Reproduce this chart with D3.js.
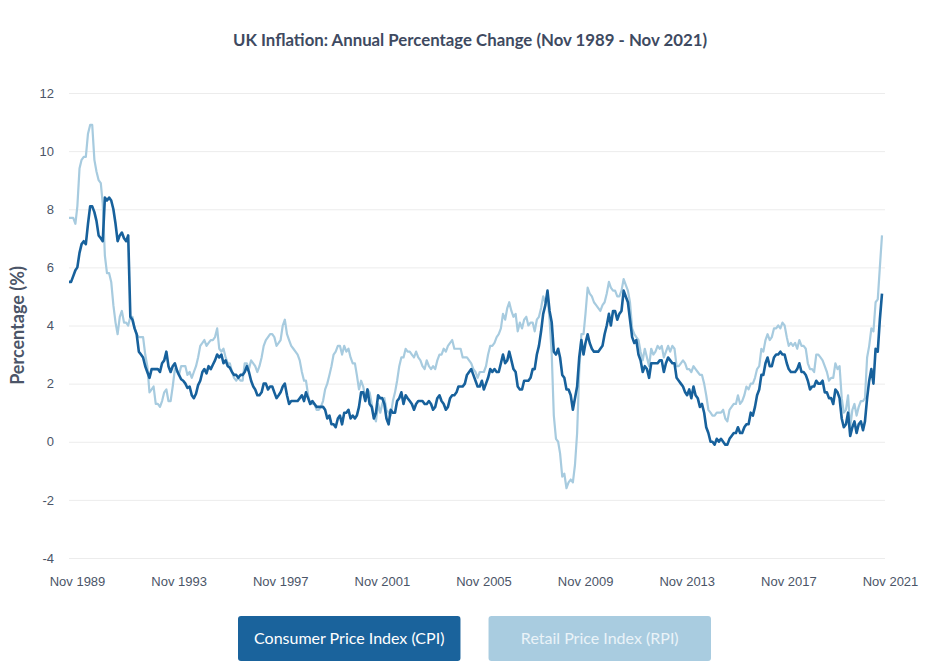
<!DOCTYPE html>
<html>
<head>
<meta charset="utf-8">
<script src="https://cdn.jsdelivr.net/npm/d3@7"></script>
<style>
  body { margin: 0; background: #fff; }
  svg { font-family: Lato, "Open Sans", sans-serif; }
</style>
</head>
<body>
<div id="chart"></div>
<script>
// first month of the series, then one value per month up to Nov 2021
const startMonth = "1989-11";

// Consumer Price Index, annual % change
const cpi = [
  5.5, 5.5,                                                        // 1989 Nov-Dec
  5.7, 5.9, 6.0, 6.5, 6.8, 6.9, 6.8, 7.5, 8.1, 8.1, 7.9, 7.6,      // 1990
  7.1, 7.0, 6.9, 8.4, 8.3, 8.4, 8.3, 8.0, 7.5, 6.9, 7.1, 7.2,      // 1991
  7.0, 6.9, 7.1, 4.3, 4.2, 3.9, 3.7, 3.1, 3.0, 2.9, 2.6, 2.4,      // 1992
  2.2, 2.5, 2.5, 2.5, 2.5, 2.4, 2.7, 2.8, 3.1, 2.6, 2.4, 2.6,      // 1993
  2.7, 2.45, 2.3, 2.15, 2.1, 2.0, 1.85, 1.9, 1.6, 1.5, 1.65, 1.95, // 1994
  2.1, 2.4, 2.5, 2.35, 2.6, 2.5, 2.65, 2.8, 3.0, 2.9, 3.0, 2.7,    // 1995
  2.8, 2.6, 2.55, 2.4, 2.3, 2.3, 2.2, 2.3, 2.3, 2.4, 2.6, 2.4,     // 1996
  2.1, 1.9, 1.8, 1.6, 1.6, 1.7, 2.0, 2.0, 1.8, 1.9, 1.9, 1.7,      // 1997
  1.5, 1.6, 1.7, 1.9, 2.0, 1.6, 1.3, 1.4, 1.4, 1.4, 1.4, 1.5,      // 1998
  1.6, 1.4, 1.7, 1.5, 1.3, 1.4, 1.3, 1.2, 1.2, 1.2, 1.2, 1.1,      // 1999
  0.8, 0.9, 0.6, 0.6, 0.5, 0.8, 0.9, 0.6, 1.0, 1.0, 1.1, 0.8,      // 2000
  0.9, 0.8, 0.9, 1.2, 1.7, 1.7, 1.4, 1.8, 1.3, 1.2, 0.8, 1.0,      // 2001
  1.6, 1.5, 1.5, 1.3, 0.8, 0.6, 1.1, 1.0, 1.0, 1.4, 1.5, 1.7,      // 2002
  1.3, 1.6, 1.5, 1.4, 1.3, 1.1, 1.3, 1.4, 1.4, 1.4, 1.3, 1.3,      // 2003
  1.4, 1.3, 1.1, 1.2, 1.5, 1.6, 1.4, 1.3, 1.1, 1.2, 1.5, 1.6,      // 2004
  1.6, 1.7, 1.9, 1.9, 1.9, 2.0, 2.3, 2.4, 2.5, 2.3, 2.1, 1.9,      // 2005
  1.9, 2.1, 1.8, 2.0, 2.2, 2.5, 2.4, 2.5, 2.4, 2.4, 2.7, 3.0,      // 2006
  2.7, 2.8, 3.1, 2.8, 2.5, 2.4, 1.9, 1.8, 1.8, 2.1, 2.1, 2.1,      // 2007
  2.2, 2.5, 2.5, 3.0, 3.3, 3.8, 4.4, 4.7, 5.2, 4.5, 4.1, 3.1,      // 2008
  3.0, 3.2, 2.9, 2.3, 2.2, 1.8, 1.8, 1.6, 1.1, 1.5, 1.9, 2.9,      // 2009
  3.5, 3.0, 3.4, 3.7, 3.4, 3.2, 3.1, 3.1, 3.1, 3.2, 3.3, 3.7,      // 2010
  4.0, 4.4, 4.0, 4.5, 4.5, 4.2, 4.4, 4.5, 5.2, 5.0, 4.8, 4.2,      // 2011
  3.6, 3.4, 3.5, 3.0, 2.8, 2.4, 2.6, 2.5, 2.2, 2.7, 2.7, 2.7,      // 2012
  2.7, 2.8, 2.8, 2.4, 2.7, 2.9, 2.8, 2.7, 2.7, 2.2, 2.1, 2.0,      // 2013
  1.9, 1.7, 1.6, 1.8, 1.5, 1.9, 1.6, 1.5, 1.2, 1.3, 1.0, 0.5,      // 2014
  0.3, 0.0, 0.0, -0.1, 0.1, 0.0, 0.1, 0.0, -0.1, -0.1, 0.1, 0.2,   // 2015
  0.3, 0.3, 0.5, 0.3, 0.3, 0.5, 0.6, 0.6, 1.0, 0.9, 1.2, 1.6,      // 2016
  1.8, 2.3, 2.3, 2.7, 2.9, 2.6, 2.6, 2.9, 3.0, 3.0, 3.1, 3.0,      // 2017
  3.0, 2.7, 2.5, 2.4, 2.4, 2.4, 2.5, 2.7, 2.4, 2.4, 2.3, 2.1,      // 2018
  1.8, 1.9, 1.9, 2.1, 2.0, 2.0, 2.1, 1.7, 1.7, 1.5, 1.5, 1.3,      // 2019
  1.8, 1.7, 1.5, 0.8, 0.5, 0.6, 1.0, 0.2, 0.5, 0.7, 0.3, 0.6,      // 2020
  0.7, 0.4, 0.7, 1.5, 2.1, 2.5, 2.0, 3.2, 3.1, 4.2, 5.1            // 2021 Jan-Nov
];

// Retail Price Index, annual % change
const rpi = [
  7.7, 7.7,                                                        // 1989 Nov-Dec
  7.7, 7.5, 8.1, 9.4, 9.7, 9.8, 9.8, 10.6, 10.9, 10.9, 9.7, 9.3,   // 1990
  9.0, 8.9, 8.2, 6.4, 5.8, 5.8, 5.5, 4.7, 4.1, 3.7, 4.3, 4.5,      // 1991
  4.1, 4.1, 4.0, 4.3, 4.3, 3.9, 3.7, 3.6, 3.6, 3.6, 3.0, 2.6,      // 1992
  1.7, 1.8, 1.9, 1.3, 1.3, 1.2, 1.4, 1.7, 1.8, 1.4, 1.4, 1.9,      // 1993
  2.5, 2.4, 2.3, 2.6, 2.6, 2.6, 2.3, 2.4, 2.2, 2.4, 2.6, 2.9,      // 1994
  3.3, 3.4, 3.5, 3.3, 3.4, 3.5, 3.5, 3.6, 3.9, 3.2, 3.1, 3.2,      // 1995
  2.9, 2.7, 2.7, 2.4, 2.2, 2.1, 2.2, 2.1, 2.1, 2.7, 2.7, 2.5,      // 1996
  2.8, 2.7, 2.6, 2.4, 2.6, 2.9, 3.3, 3.5, 3.6, 3.7, 3.7, 3.6,      // 1997
  3.3, 3.4, 3.5, 4.0, 4.2, 3.7, 3.5, 3.3, 3.2, 3.1, 3.0, 2.8,      // 1998
  2.4, 2.1, 2.1, 1.6, 1.3, 1.3, 1.3, 1.1, 1.1, 1.2, 1.4, 1.8,      // 1999
  2.0, 2.3, 2.6, 3.0, 3.1, 3.3, 3.3, 3.0, 3.3, 3.1, 3.2, 2.9,      // 2000
  2.7, 2.7, 2.3, 1.8, 2.1, 1.9, 1.5, 1.8, 1.7, 1.3, 0.9, 0.7,      // 2001
  1.3, 1.0, 1.3, 1.5, 1.1, 1.0, 0.9, 1.4, 1.7, 2.1, 2.6, 2.9,      // 2002
  2.9, 3.2, 3.1, 3.1, 3.0, 2.9, 3.1, 2.9, 2.8, 2.6, 2.5, 2.8,      // 2003
  2.6, 2.5, 2.6, 2.5, 2.8, 3.0, 3.0, 3.2, 3.1, 3.3, 3.4, 3.5,      // 2004
  3.2, 3.2, 3.2, 3.2, 2.9, 2.9, 2.9, 2.8, 2.7, 2.5, 2.4, 2.2,      // 2005
  2.4, 2.4, 2.4, 2.6, 3.0, 3.3, 3.3, 3.4, 3.6, 3.7, 3.9, 4.4,      // 2006
  4.2, 4.6, 4.8, 4.5, 4.3, 4.4, 3.8, 4.1, 3.9, 4.2, 4.3, 4.0,      // 2007
  4.1, 4.1, 3.8, 4.2, 4.3, 4.6, 5.0, 4.8, 5.0, 4.2, 3.0, 0.9,      // 2008
  0.1, 0.0, -0.4, -1.2, -1.1, -1.6, -1.4, -1.3, -1.4, -0.8, 0.3, 2.4, // 2009
  3.7, 3.7, 4.4, 5.3, 5.1, 5.0, 4.8, 4.7, 4.6, 4.5, 4.7, 4.8,      // 2010
  5.1, 5.5, 5.3, 5.2, 5.2, 5.0, 5.0, 5.2, 5.6, 5.4, 5.2, 4.8,      // 2011
  3.9, 3.7, 3.6, 3.5, 3.1, 2.8, 3.2, 2.9, 2.6, 3.2, 3.0, 3.1,      // 2012
  3.3, 3.2, 3.3, 2.9, 3.1, 3.3, 3.1, 3.3, 3.2, 2.6, 2.6, 2.7,      // 2013
  2.8, 2.7, 2.5, 2.5, 2.4, 2.6, 2.5, 2.4, 2.3, 2.3, 2.0, 1.6,      // 2014
  1.1, 1.0, 0.9, 0.9, 1.0, 1.0, 1.0, 1.1, 0.8, 0.7, 1.1, 1.2,      // 2015
  1.3, 1.3, 1.6, 1.3, 1.4, 1.6, 1.9, 1.8, 2.0, 2.0, 2.2, 2.5,      // 2016
  2.6, 3.2, 3.1, 3.5, 3.7, 3.5, 3.6, 3.9, 3.9, 4.0, 3.9, 4.1,      // 2017
  4.0, 3.6, 3.3, 3.4, 3.3, 3.4, 3.2, 3.5, 3.3, 3.3, 3.2, 2.7,      // 2018
  2.5, 2.5, 2.4, 3.0, 3.0, 2.9, 2.8, 2.6, 2.4, 2.1, 2.2, 2.2,      // 2019
  2.7, 2.5, 2.6, 1.5, 1.0, 1.1, 1.6, 0.5, 1.1, 1.3, 0.9, 1.2,      // 2020
  1.4, 1.4, 1.5, 2.9, 3.3, 3.9, 3.8, 4.8, 4.9, 6.0, 7.1            // 2021 Jan-Nov
];

const xTickLabels = ["Nov 1989", "Nov 1993", "Nov 1997", "Nov 2001", "Nov 2005",
                     "Nov 2009", "Nov 2013", "Nov 2017", "Nov 2021"];
const yTicks = [-4, -2, 0, 2, 4, 6, 8, 10, 12];
const seriesNames = ["Consumer Price Index (CPI)", "Retail Price Index (RPI)"];
const seriesColors = ["#17619c", "#a7cbdf"];

const W = 940, H = 668;
const margin = { top: 93, right: 57, bottom: 110, left: 69 };

const parseMonth = d3.timeParse("%Y-%m");
const parseLabel = d3.timeParse("%b %Y");
const start = parseMonth(startMonth);
const dates = cpi.map((d, i) => d3.timeMonth.offset(start, i));

const svg = d3.select("#chart").append("svg")
  .attr("width", W)
  .attr("height", H);

const x = d3.scaleTime()
  .domain(d3.extent(dates))
  .range([margin.left, W - margin.right - 1]);

const y = d3.scaleLinear()
  .domain([-4, 12])
  .range([H - margin.bottom, margin.top]);

// TITLE
svg.append("text")
  .attr("x", W / 2).attr("y", 46)
  .attr("text-anchor", "middle")
  .style("font-size", "16.8px")
  .style("font-weight", 700)
  .style("fill", "#3e4a61")
  .text("UK Inflation: Annual Percentage Change (Nov 1989 - Nov 2021)");

// Y AXIS + GRID
const yAxis = svg.append("g")
  .attr("transform", "translate(" + margin.left + ",0)")
  .call(d3.axisLeft(y)
    .tickValues(yTicks)
    .tickFormat(d => String(d))
    .tickSize(-(W - margin.left - margin.right + 2))
    .tickPadding(15));
yAxis.select(".domain").remove();
yAxis.selectAll(".tick line").style("stroke", "#ececec");
yAxis.selectAll(".tick text")
  .style("font-size", "13px")
  .style("fill", "#4b5568");

svg.append("text")
  .attr("transform", "translate(24," + ((margin.top + H - margin.bottom) / 2) + ") rotate(-90)")
  .attr("text-anchor", "middle")
  .style("font-size", "18px")
  .style("font-weight", 700)
  .style("fill", "#4b5568")
  .text("Percentage (%)");

// X AXIS
const xAxis = svg.append("g")
  .attr("transform", "translate(0," + (H - margin.bottom) + ")")
  .call(d3.axisBottom(x)
    .tickValues(xTickLabels.map(parseLabel))
    .tickFormat(d3.timeFormat("%b %Y"))
    .tickSize(0).tickPadding(19));
xAxis.select(".domain").remove();
xAxis.selectAll(".tick text")
  .attr("dx", 8)
  .style("font-size", "13px")
  .style("fill", "#4b5568");

// LINES
const line = d3.line()
  .x((d, i) => x(dates[i]))
  .y(d => y(d));

svg.append("path")
  .datum(rpi)
  .attr("fill", "none")
  .attr("stroke", seriesColors[1])
  .attr("stroke-width", 2.2)
  .attr("stroke-linejoin", "round")
  .attr("d", line);

svg.append("path")
  .datum(cpi)
  .attr("fill", "none")
  .attr("stroke", seriesColors[0])
  .attr("stroke-width", 2.6)
  .attr("stroke-linejoin", "round")
  .attr("d", line);

// LEGEND BUTTONS
const btnH = 45;
const btnX = d3.scaleBand()
  .domain(seriesNames)
  .range([238, 711])
  .paddingInner(0.112);

const btn = svg.append("g").selectAll("g")
  .data(seriesNames)
  .join("g")
  .attr("transform", d => "translate(" + btnX(d) + ",616)");

btn.append("rect")
  .attr("width", btnX.bandwidth())
  .attr("height", btnH)
  .attr("rx", 3)
  .attr("fill", (d, i) => i === 0 ? "#1a639c" : "#a9cce0");

btn.append("text")
  .attr("x", btnX.bandwidth() / 2)
  .attr("y", btnH / 2 + 5.5)
  .attr("text-anchor", "middle")
  .style("font-size", "16px")
  .style("fill", (d, i) => i === 0 ? "#ffffff" : "#eaf3f8")
  .text(d => d);
</script>
</body>
</html>
